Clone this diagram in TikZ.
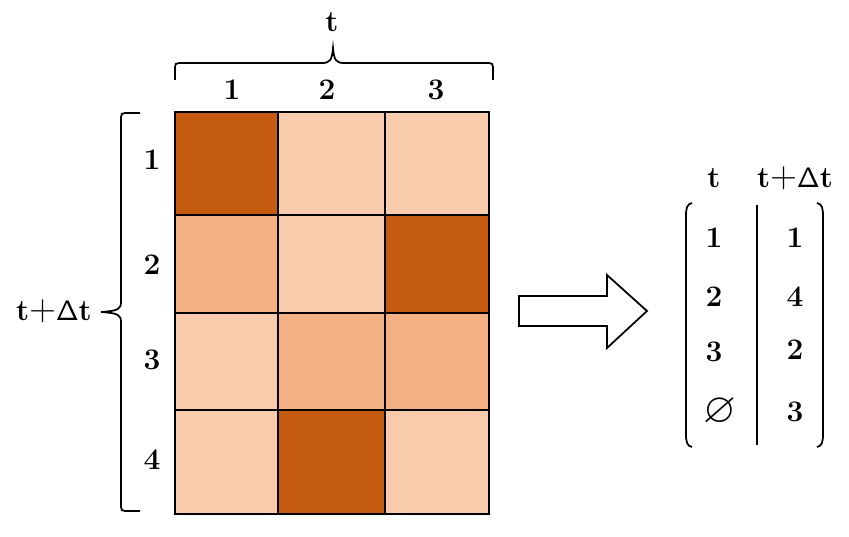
\documentclass[tikz,border=0pt]{standalone}
\usepackage{fix-cm}
\usepackage{amsmath}
\usepackage{amssymb}

\definecolor{darkorange}{RGB}{197,90,17}
\definecolor{midorange}{RGB}{244,177,131}
\definecolor{lightorange}{RGB}{248,203,173}

\newcommand{\tdelta}{$\mathbf{t}${\fontsize{21}{24}\selectfont$\mathbf{+}$}{\fontsize{16}{18}\selectfont$\mathsf{\Delta}$}$\mathbf{t}$}

\begin{document}
\begin{tikzpicture}[x=0.02cm,y=-0.02cm,
    lbl/.style={font=\fontsize{17}{20}\selectfont, inner sep=0pt}]
    \useasboundingbox (0,0) rectangle (849,537);

    % main picture
    \fill[darkorange]  (175,112) rectangle (278,215);
    \fill[lightorange] (278,112) rectangle (385,215);
    \fill[lightorange] (385,112) rectangle (489,215);

    \fill[midorange]   (175,215) rectangle (278,313);
    \fill[lightorange] (278,215) rectangle (385,313);
    \fill[darkorange]  (385,215) rectangle (489,313);

    \fill[lightorange] (175,313) rectangle (278,410);
    \fill[midorange]   (278,313) rectangle (385,410);
    \fill[midorange]   (385,313) rectangle (489,410);

    \fill[lightorange] (175,410) rectangle (278,514);
    \fill[darkorange]  (278,410) rectangle (385,514);
    \fill[lightorange] (385,410) rectangle (489,514);

    \draw[line width=1pt] (175,112) rectangle (489,514);
    \draw[line width=1pt] (278,112) -- (278,514);
    \draw[line width=1pt] (385,112) -- (385,514);
    \draw[line width=1pt] (175,215) -- (489,215);
    \draw[line width=1pt] (175,313) -- (489,313);
    \draw[line width=1pt] (175,410) -- (489,410);

    % braces
    \draw[line width=1pt] (175,80) -- (175,67) .. controls (175,64) and (176,63) .. (179,63)
        -- (322,63) .. controls (330,63) and (332,60) .. (333,48)
        .. controls (334,60) and (336,63) .. (344,63)
        -- (489,63) .. controls (492,63) and (493,64) .. (493,67) -- (493,80);
    \draw[line width=1pt] (140,113) -- (125,113) .. controls (122,113) and (121,114) .. (121,117)
        -- (121,302) .. controls (121,309) and (118,311) .. (101,312)
        .. controls (118,313) and (121,315) .. (121,322)
        -- (121,507) .. controls (121,510) and (122,511) .. (125,511) -- (140,511);

    \node[lbl] (t) at (332,22) {$\mathbf{t}$};
    \node[lbl] (c1) at (232,90) {$\mathbf{1}$};
    \node[lbl] (c2) at (327,90) {$\mathbf{2}$};
    \node[lbl] (c3) at (436,90) {$\mathbf{3}$};

    \node[lbl] (tdt) at (54,311) {\tdelta};
    \node[lbl] (r1) at (152,160) {$\mathbf{1}$};
    \node[lbl] (r2) at (152,265) {$\mathbf{2}$};
    \node[lbl] (r3) at (152,360) {$\mathbf{3}$};
    \node[lbl] (r4) at (152,460) {$\mathbf{4}$};

    % arrow
    \draw[line width=1pt] (519,296) -- (607,296) -- (607,275) -- (647,311)
        -- (607,348) -- (607,326) -- (519,326) -- cycle;

    % sub picture
    \node[lbl] (ht) at (714,178) {$\mathbf{t}$};
    \node[lbl] (htdt) at (795,178) {\tdelta};

    \draw[line width=1pt] (692,203) .. controls (687,204) and (686,208) .. (686,216)
        -- (686,434) .. controls (686,442) and (687,446) .. (692,447);
    \draw[line width=1pt] (817,203) .. controls (822,204) and (823,208) .. (823,216)
        -- (823,434) .. controls (823,442) and (822,446) .. (817,447);
    \draw[line width=0.8pt] (757,205) -- (757,445);

    \node[lbl] (a1) at (714,238) {$\mathbf{1}$};
    \node[lbl] (a2) at (714,297) {$\mathbf{2}$};
    \node[lbl] (a3) at (714,352) {$\mathbf{3}$};
    \node[lbl, font=\fontsize{24}{28}\selectfont] (a4) at (720,412) {$\varnothing$};

    \node[lbl] (b1) at (795,238) {$\mathbf{1}$};
    \node[lbl] (b2) at (795,297) {$\mathbf{4}$};
    \node[lbl] (b3) at (795,350) {$\mathbf{2}$};
    \node[lbl] (b4) at (795,412) {$\mathbf{3}$};
\end{tikzpicture}
\end{document}
